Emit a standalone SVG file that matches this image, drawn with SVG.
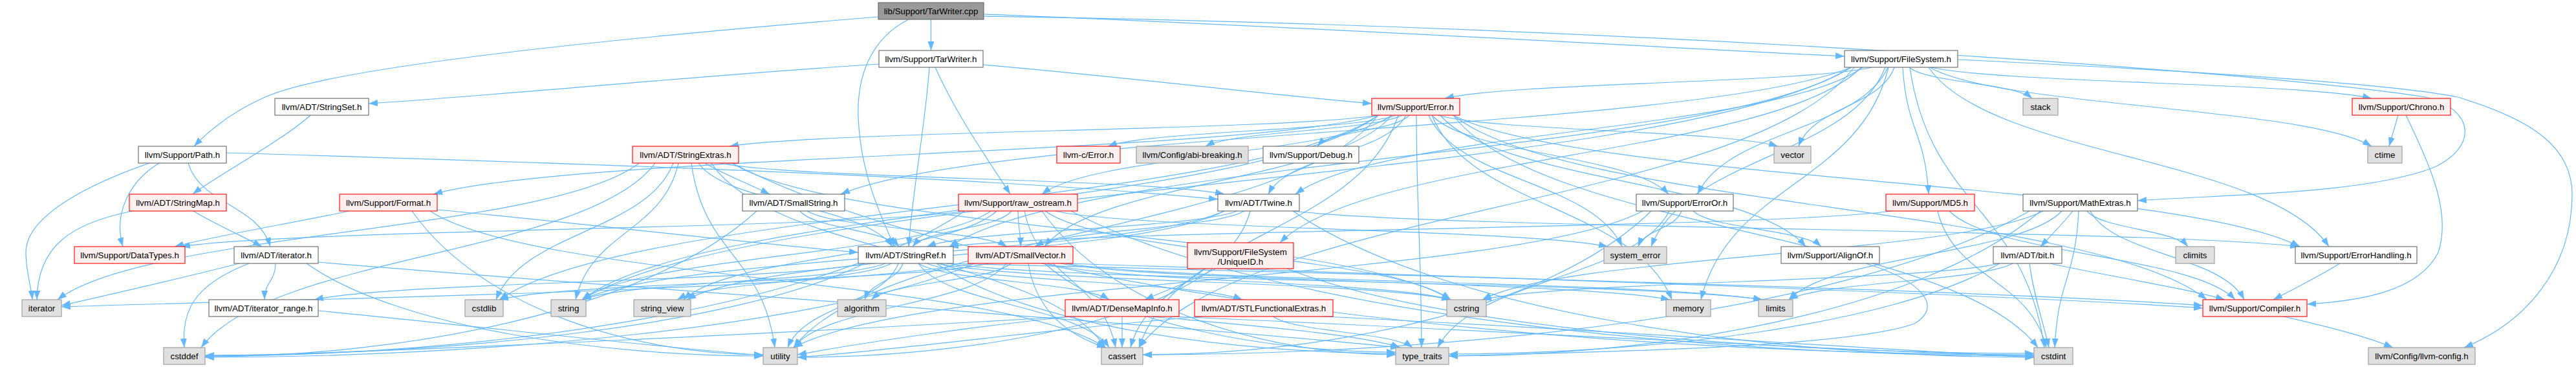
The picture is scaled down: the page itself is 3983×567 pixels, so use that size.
<svg xmlns="http://www.w3.org/2000/svg" width="3983" height="567" viewBox="0 0 3983 567">
<defs>
<marker id="a" viewBox="0 0 14 10" refX="14" refY="5" markerWidth="14" markerHeight="10" orient="auto" markerUnits="userSpaceOnUse"><path d="M0,0L14,5L0,10z" fill="#63b8ff"/></marker>
<style>
.e path{fill:none;stroke:#63b8ff;stroke-width:1.2;marker-end:url(#a)}
.n rect{fill:#ffffff;stroke:#666666;stroke-width:1.1}
.x rect{fill:#e0e0e0;stroke:#999999;stroke-width:1.1}
.r rect{fill:#fff0f0;stroke:#ff0000;stroke-width:1.1}
.root rect{fill:#999999;stroke:#666666;stroke-width:1.1}
text{font-family:"Liberation Sans",Arial,Helvetica,sans-serif;font-size:13.33px;text-anchor:middle;fill:#000000}
</style>
</defs>
<rect width="3983" height="567" fill="#ffffff"/>
<g id="edges" class="e">
<path d="M1439.5,30 L1439.5,78"/>
<path d="M1405,30 C1345,60 1325,120 1327,180 C1330,270 1365,340 1383,381"/>
<path d="M1521,22 C2000,40 2600,75 2852,87"/>
<path d="M1521,25 C2500,40 3500,110 3750,150 C3830,170 3830,230 3760,260 C3650,300 3450,300 3305,310"/>
<path d="M1358,26 C1000,55 520,100 410,150 C360,172 325,200 300,226"/>
<path d="M1437,104 C1430,200 1410,300 1405,381"/>
<path d="M1359,99 C1100,115 800,145 570,160"/>
<path d="M1520,100 C1750,120 1950,145 2121,160"/>
<path d="M1446,104 C1480,180 1530,250 1562,300"/>
<path d="M2862,104 C2628,202 1534,202 1300,300"/>
<path d="M2862,104 C2653,242 1677,242 1468,381"/>
<path d="M2880,104 C2748,202 2135,202 2003,300"/>
<path d="M3027,92 C3400,110 3700,130 3800,150 C3900,180 3977,220 3977,300 C3977,420 3900,500 3810,537"/>
<path d="M2986,104 C3088,128 3565,128 3667,152"/>
<path d="M2894,104 C2795,128 2333,128 2234,152"/>
<path d="M2982,104 C3075,242 3508,242 3601,381"/>
<path d="M2919,104 C2875,202 2669,202 2625,300"/>
<path d="M2878,104 C2743,240 2114,240 1979,375"/>
<path d="M2942,104 C2948,202 2976,202 2982,300"/>
<path d="M2867,104 C2701,320 1927,320 1761,537"/>
<path d="M2953,104 C2984,320 3130,320 3161,537"/>
<path d="M2984,104 C3086,165 3565,165 3667,226"/>
<path d="M2920,104 C2876,284 2674,284 2630,463"/>
<path d="M2952,104 C2980,128 3114,128 3142,152"/>
<path d="M2862,104 C2568,284 1194,284 900,463"/>
<path d="M2915,104 C2861,242 2607,242 2553,381"/>
<path d="M2929,104 C2907,165 2803,165 2781,226"/>
<path d="M2159,178 C2092,202 1780,202 1713,226"/>
<path d="M2152,178 C2071,280 1696,280 1615,381"/>
<path d="M2131,178 C1981,202 1278,202 1128,226"/>
<path d="M2174,178 C2142,239 1993,239 1961,300"/>
<path d="M2168,178 C2122,202 1910,202 1864,226"/>
<path d="M2227,178 C2312,280 2707,280 2792,381"/>
<path d="M2247,178 C2422,320 3237,320 3412,463"/>
<path d="M2179,178 C2158,202 2058,202 2037,226"/>
<path d="M2247,178 C2443,280 3360,280 3556,381"/>
<path d="M2214,178 C2269,239 2525,239 2580,300"/>
<path d="M2131,178 C1912,239 889,239 670,300"/>
<path d="M2152,178 C2071,239 1692,239 1611,300"/>
<path d="M2162,178 C2102,358 1821,358 1761,537"/>
<path d="M2247,178 C2383,358 3015,358 3151,537"/>
<path d="M2131,178 C1927,320 976,320 772,463"/>
<path d="M2214,178 C2270,320 2529,320 2585,463"/>
<path d="M2131,178 C1946,320 1085,320 900,463"/>
<path d="M2209,178 C2254,280 2463,280 2508,381"/>
<path d="M2190,178 C2191,358 2197,358 2198,537"/>
<path d="M2131,178 C1995,358 1363,358 1227,537"/>
<path d="M2224,178 C2303,202 2670,202 2749,226"/>
<path d="M480,178 C440,215 330,275 298,300"/>
<path d="M3708,178 L3694,226"/>
<path d="M3720,178 C3760,260 3790,330 3770,390 C3740,450 3650,465 3567,470"/>
<path d="M350,236 C800,250 1500,270 1883,308"/>
<path d="M291,252 C310,316 399,316 418,381"/>
<path d="M246,252 C200,280 175,330 190,381"/>
<path d="M231,252 C150,280 40,330 40,390 C40,420 48,440 50,463"/>
<path d="M1090,252 C1120,270 1160,285 1190,300"/>
<path d="M1080,252 C1125,316 1335,316 1380,381"/>
<path d="M1113,252 C1230,276 1776,276 1893,300"/>
<path d="M1100,252 C1191,394 1618,394 1709,537"/>
<path d="M1013,252 C908,394 416,394 311,537"/>
<path d="M1132,252 C1535,459 2440,548 3145,548"/>
<path d="M1041,252 C1000,358 808,358 767,463"/>
<path d="M1132,252 C1299,358 2076,358 2243,463"/>
<path d="M988,252 C853,358 224,358 89,463"/>
<path d="M1049,252 C1025,358 914,358 890,463"/>
<path d="M1069,252 C1088,394 1179,394 1198,537"/>
<path d="M299,326 C330,345 375,365 405,381"/>
<path d="M205,326 C110,345 58,380 57,463"/>
<path d="M540,326 C450,345 330,365 270,381"/>
<path d="M676,324 C900,345 1150,375 1327,390"/>
<path d="M665,326 C821,431 1553,431 1709,537"/>
<path d="M637,326 C746,481 990,548 1180,548"/>
<path d="M1248,326 C1294,354 1511,354 1557,381"/>
<path d="M1237,326 C1260,354 1367,354 1390,381"/>
<path d="M1170,326 C999,483 616,551 317,551"/>
<path d="M1574,326 C1574,354 1578,354 1578,381"/>
<path d="M1564,326 C1541,354 1434,354 1411,381"/>
<path d="M1492,326 C1310,354 462,354 280,381"/>
<path d="M1584,326 C1605,431 1704,431 1725,537"/>
<path d="M1492,326 C1257,483 728,550 317,550"/>
<path d="M1656,326 C1954,483 2624,550 3145,550"/>
<path d="M1616,326 C1710,394 2149,394 2243,463"/>
<path d="M1532,326 C1437,394 995,394 900,463"/>
<path d="M1541,326 C1468,394 1130,394 1057,463"/>
<path d="M1631,326 C1759,354 2358,354 2486,381"/>
<path d="M1611,326 C1720,481 1967,548 2158,548"/>
<path d="M1924,326 C1875,354 1649,354 1600,381"/>
<path d="M1913,326 C1841,354 1505,354 1433,381"/>
<path d="M1999,326 C2232,354 3322,354 3555,381"/>
<path d="M1933,326 C1905,431 1776,431 1748,537"/>
<path d="M1999,326 C2228,484 2744,552 3145,552"/>
<path d="M1893,326 C1744,394 1049,394 900,463"/>
<path d="M1893,326 C1768,394 1187,394 1062,463"/>
<path d="M2618,326 C2648,354 2786,354 2816,381"/>
<path d="M2553,326 C2396,481 2042,548 1767,548"/>
<path d="M2600,326 C2590,354 2543,354 2533,381"/>
<path d="M2581,326 C2527,431 2277,431 2223,537"/>
<path d="M2540,326 C2343,431 1424,431 1227,537"/>
<path d="M2926,326 C2707,354 1687,354 1468,381"/>
<path d="M3014,326 C3080,394 3390,394 3456,463"/>
<path d="M2996,326 C3021,431 3139,431 3164,537"/>
<path d="M3205,326 C3190,345 3170,365 3155,381"/>
<path d="M3232,326 C3268,394 3434,394 3470,463"/>
<path d="M3138,326 C2864,484 2247,548 1767,548"/>
<path d="M3227,326 C3250,354 3360,354 3383,381"/>
<path d="M3214,326 C3209,431 3182,431 3177,537"/>
<path d="M3159,326 C3029,394 2422,394 2292,463"/>
<path d="M3188,326 C3125,394 2829,394 2766,463"/>
<path d="M3155,326 C2972,483 2560,550 2240,550"/>
<path d="M426,407 C426,435 409,435 409,463"/>
<path d="M385,407 C300,440 280,480 285,537"/>
<path d="M370,407 C280,430 170,455 95,472"/>
<path d="M492,405 C900,440 1800,500 2164,537"/>
<path d="M474,407 C615,507 933,550 1180,550"/>
<path d="M1420,407 C1464,435 1671,435 1715,463"/>
<path d="M1433,407 C1506,435 1848,435 1921,463"/>
<path d="M1337,407 C1209,435 614,435 486,463"/>
<path d="M1464,407 C2200,425 3100,450 3406,472"/>
<path d="M1396,407 C1387,435 1346,435 1337,463"/>
<path d="M1420,407 C1464,472 1671,472 1715,537"/>
<path d="M1337,407 C1133,507 674,549 317,549"/>
<path d="M1452,407 C1571,435 2124,435 2243,463"/>
<path d="M1464,407 C1653,435 2536,435 2725,463"/>
<path d="M1369,407 C1299,435 970,435 900,463"/>
<path d="M1378,407 C1328,435 1097,435 1047,463"/>
<path d="M1448,407 C1590,504 1910,546 2158,546"/>
<path d="M1389,407 C1363,472 1244,472 1218,537"/>
<path d="M1649,407 C2300,428 3100,455 3406,476"/>
<path d="M1563,407 C1531,435 1379,435 1347,463"/>
<path d="M1590,407 C1600,470 1640,515 1710,537"/>
<path d="M1507,407 C1269,507 734,552 317,552"/>
<path d="M1528,407 C1415,435 885,435 772,463"/>
<path d="M1619,407 C1713,435 2149,435 2243,463"/>
<path d="M1507,407 C1225,450 600,458 95,474"/>
<path d="M1648,407 C1810,435 2563,435 2725,463"/>
<path d="M1640,407 C1781,435 2441,435 2582,463"/>
<path d="M1615,407 C1724,503 1968,544 2158,544"/>
<path d="M1556,407 C1507,472 1276,472 1227,537"/>
<path d="M1880,415 C1840,435 1800,450 1770,463"/>
<path d="M1990,415 C2221,507 2741,546 3145,546"/>
<path d="M1875,415 C1747,511 1458,552 1233,552"/>
<path d="M2885,407 C2960,430 3010,470 2960,500 C2850,540 2400,545 2240,550"/>
<path d="M3170,407 C3250,425 3380,445 3440,463"/>
<path d="M3138,407 C3145,460 3160,500 3168,537"/>
<path d="M3112,407 C3060,435 2818,435 2766,463"/>
<path d="M3092,407 C2922,505 2538,547 2240,547"/>
<path d="M3092,407 C2972,435 2412,435 2292,463"/>
<path d="M3618,407 C3580,430 3540,450 3515,463"/>
<path d="M492,480 C750,505 1000,535 1180,549"/>
<path d="M1735,489 L1735,537"/>
<path d="M1657,489 C1300,510 600,545 317,550"/>
<path d="M1813,489 C2300,510 2900,545 3145,550"/>
<path d="M1780,489 C1900,500 2100,515 2165,537"/>
<path d="M1657,489 C1500,505 1330,530 1233,548"/>
<path d="M2045,489 C2400,505 2900,540 3145,552"/>
<path d="M1969,489 C2001,513 2152,513 2184,537"/>
<path d="M1860,489 C1600,510 1400,540 1233,552"/>
<path d="M3531,489 C3600,505 3660,520 3700,537"/>
</g>
<g id="n_cpp" class="root"><rect x="1358" y="4" width="163" height="26"/><text x="1439.5" y="22">lib/Support/TarWriter.cpp</text></g>
<g id="n_tarh" class="n"><rect x="1359" y="78" width="161" height="26"/><text x="1439.5" y="96">llvm/Support/TarWriter.h</text></g>
<g id="n_fs" class="n"><rect x="2852" y="78" width="175" height="26"/><text x="2939.5" y="96">llvm/Support/FileSystem.h</text></g>
<g id="n_sset" class="n"><rect x="425" y="152" width="145" height="26"/><text x="497.5" y="170">llvm/ADT/StringSet.h</text></g>
<g id="n_err" class="r"><rect x="2121" y="152" width="136" height="26"/><text x="2189" y="170">llvm/Support/Error.h</text></g>
<g id="n_stack" class="x"><rect x="3128" y="152" width="54" height="26"/><text x="3155" y="170">stack</text></g>
<g id="n_chrono" class="r"><rect x="3637" y="152" width="152" height="26"/><text x="3713" y="170">llvm/Support/Chrono.h</text></g>
<g id="n_path" class="n"><rect x="214" y="226" width="136" height="26"/><text x="282" y="244">llvm/Support/Path.h</text></g>
<g id="n_sext" class="r"><rect x="978" y="226" width="164" height="26"/><text x="1060" y="244">llvm/ADT/StringExtras.h</text></g>
<g id="n_cerr" class="r"><rect x="1634" y="226" width="98" height="26"/><text x="1683" y="244">llvm-c/Error.h</text></g>
<g id="n_abi" class="x"><rect x="1757" y="226" width="173" height="26"/><text x="1843.5" y="244">llvm/Config/abi-breaking.h</text></g>
<g id="n_debug" class="n"><rect x="1953" y="226" width="148" height="26"/><text x="2027" y="244">llvm/Support/Debug.h</text></g>
<g id="n_vector" class="x"><rect x="2743" y="226" width="57" height="26"/><text x="2771.5" y="244">vector</text></g>
<g id="n_ctime" class="x"><rect x="3661" y="226" width="53" height="26"/><text x="3687.5" y="244">ctime</text></g>
<g id="n_smap" class="r"><rect x="200" y="300" width="150" height="26"/><text x="275" y="318">llvm/ADT/StringMap.h</text></g>
<g id="n_format" class="r"><rect x="525" y="300" width="151" height="26"/><text x="600.5" y="318">llvm/Support/Format.h</text></g>
<g id="n_sstr" class="n"><rect x="1148" y="300" width="158" height="26"/><text x="1227" y="318">llvm/ADT/SmallString.h</text></g>
<g id="n_rawos" class="r"><rect x="1482" y="300" width="184" height="26"/><text x="1574" y="318">llvm/Support/raw_ostream.h</text></g>
<g id="n_twine" class="n"><rect x="1883" y="300" width="126" height="26"/><text x="1946" y="318">llvm/ADT/Twine.h</text></g>
<g id="n_erroror" class="n"><rect x="2530" y="300" width="150" height="26"/><text x="2605" y="318">llvm/Support/ErrorOr.h</text></g>
<g id="n_md5" class="r"><rect x="2916" y="300" width="137" height="26"/><text x="2984.5" y="318">llvm/Support/MD5.h</text></g>
<g id="n_math" class="n"><rect x="3128" y="300" width="177" height="26"/><text x="3216.5" y="318">llvm/Support/MathExtras.h</text></g>
<g id="n_dtypes" class="r"><rect x="115" y="381" width="171" height="26"/><text x="200.5" y="399">llvm/Support/DataTypes.h</text></g>
<g id="n_iterh" class="n"><rect x="362" y="381" width="130" height="26"/><text x="427" y="399">llvm/ADT/iterator.h</text></g>
<g id="n_sref" class="n"><rect x="1327" y="381" width="147" height="26"/><text x="1400.5" y="399">llvm/ADT/StringRef.h</text></g>
<g id="n_svec" class="r"><rect x="1497" y="381" width="162" height="26"/><text x="1578" y="399">llvm/ADT/SmallVector.h</text></g>
<g id="n_uid" class="r"><rect x="1836" y="375" width="164" height="40"/><text x="1918" y="394">llvm/Support/FileSystem</text><text x="1918" y="409">/UniqueID.h</text></g>
<g id="n_syserr" class="x"><rect x="2480" y="381" width="97" height="26"/><text x="2528.5" y="399">system_error</text></g>
<g id="n_alignof" class="n"><rect x="2754" y="381" width="152" height="26"/><text x="2830" y="399">llvm/Support/AlignOf.h</text></g>
<g id="n_bit" class="n"><rect x="3082" y="381" width="106" height="26"/><text x="3135" y="399">llvm/ADT/bit.h</text></g>
<g id="n_climits" class="x"><rect x="3364" y="381" width="60" height="26"/><text x="3394" y="399">climits</text></g>
<g id="n_errh" class="n"><rect x="3549" y="381" width="188" height="26"/><text x="3643" y="399">llvm/Support/ErrorHandling.h</text></g>
<g id="n_iter" class="x"><rect x="34" y="463" width="61" height="26"/><text x="64.5" y="481">iterator</text></g>
<g id="n_iterr" class="n"><rect x="323" y="463" width="169" height="26"/><text x="407.5" y="481">llvm/ADT/iterator_range.h</text></g>
<g id="n_cstdlib" class="x"><rect x="719" y="463" width="59" height="26"/><text x="748.5" y="481">cstdlib</text></g>
<g id="n_string" class="x"><rect x="852" y="463" width="54" height="26"/><text x="879" y="481">string</text></g>
<g id="n_sview" class="x"><rect x="980" y="463" width="88" height="26"/><text x="1024" y="481">string_view</text></g>
<g id="n_algo" class="x"><rect x="1295" y="463" width="75" height="26"/><text x="1332.5" y="481">algorithm</text></g>
<g id="n_dmi" class="r"><rect x="1647" y="463" width="176" height="26"/><text x="1735" y="481">llvm/ADT/DenseMapInfo.h</text></g>
<g id="n_stlfe" class="r"><rect x="1847" y="463" width="214" height="26"/><text x="1954" y="481">llvm/ADT/STLFunctionalExtras.h</text></g>
<g id="n_cstring" class="x"><rect x="2237" y="463" width="61" height="26"/><text x="2267.5" y="481">cstring</text></g>
<g id="n_memory" class="x"><rect x="2576" y="463" width="69" height="26"/><text x="2610.5" y="481">memory</text></g>
<g id="n_limits" class="x"><rect x="2719" y="463" width="53" height="26"/><text x="2745.5" y="481">limits</text></g>
<g id="n_compiler" class="r"><rect x="3406" y="463" width="161" height="26"/><text x="3486.5" y="481">llvm/Support/Compiler.h</text></g>
<g id="n_cstddef" class="x"><rect x="253" y="537" width="64" height="26"/><text x="285" y="555">cstddef</text></g>
<g id="n_utility" class="x"><rect x="1180" y="537" width="53" height="26"/><text x="1206.5" y="555">utility</text></g>
<g id="n_cassert" class="x"><rect x="1703" y="537" width="64" height="26"/><text x="1735" y="555">cassert</text></g>
<g id="n_ttraits" class="x"><rect x="2158" y="537" width="82" height="26"/><text x="2199" y="555">type_traits</text></g>
<g id="n_cstdint" class="x"><rect x="3145" y="537" width="60" height="26"/><text x="3175" y="555">cstdint</text></g>
<g id="n_lconf" class="x"><rect x="3662" y="537" width="165" height="26"/><text x="3744.5" y="555">llvm/Config/llvm-config.h</text></g>
</svg>
